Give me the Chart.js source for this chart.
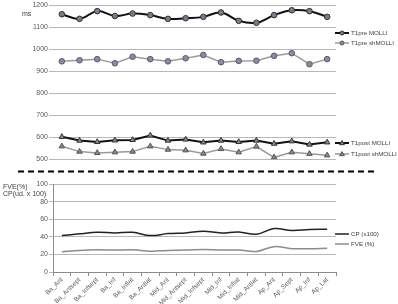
<!DOCTYPE html>
<html lang="en">
<head>
    <meta charset="UTF-8">
    <title>T1 MOLLI / shMOLLI</title>
    <script src="https://cdn.jsdelivr.net/npm/chart.js"></script>
    <style>
        body {
            margin: 0;
            background-color: #ffffff;
        }
        .figure {
            position: relative;
            width: 398px;
            height: 304px;
            overflow: hidden;
            font-family: "Liberation Sans", Arial, sans-serif;
            color: #404040;
        }
        .figure canvas {
            position: absolute;
            left: 0;
        }
        .side-label {
            position: absolute;
            font-size: 7px;
            line-height: 7px;
            white-space: nowrap;
        }
    </style>
</head>
<body>
    <div class="figure">
        <canvas id="topChart" width="398" height="168" style="top:0"></canvas>
        <canvas id="bottomChart" width="398" height="126" style="top:178px"></canvas>
        <!-- dashed separator between the two panels -->
        <svg style="position:absolute;left:0;top:0" width="398" height="304">
            <line x1="18" y1="171.5" x2="376" y2="171.5" stroke="#000" stroke-width="2" stroke-dasharray="6,4"/>
        </svg>
        <div class="side-label" style="left:22px;top:10px">ms</div>
        <div class="side-label" style="left:3px;top:183px">FVE(%)</div>
        <div class="side-label" style="left:3px;top:190px">CP(ud. x 100)</div>
    </div>

    <script>
        var categories = ['Ba_Ant', 'Ba_Antsept', 'Ba_Infsept', 'Ba_Inf', 'Ba_Inflat', 'Ba_Antlat',
            'Mid_Ant', 'Mid_Antsept', 'Mid_Infsept', 'Mid_Inf', 'Mid_Inflat', 'Mid_Antlat',
            'Ap_Ant', 'Ap_Sept', 'Ap_Inf', 'Ap_Lat'];

        var t1preMolli    = [1159, 1138, 1173, 1151, 1162, 1155, 1138, 1141, 1147, 1167, 1129, 1120, 1155, 1177, 1173, 1147];
        var t1preShMolli  = [945, 950, 955, 936, 966, 955, 945, 959, 974, 941, 947, 948, 970, 982, 932, 955];
        var t1postMolli   = [602, 585, 579, 586, 588, 608, 585, 590, 577, 585, 579, 585, 571, 582, 567, 577];
        var t1postShMolli = [559, 535, 529, 532, 535, 559, 544, 541, 526, 547, 532, 558, 509, 532, 525, 518];

        var cp  = [41.5, 43.5, 45.3, 44.6, 45.3, 41.5, 43.8, 44.6, 46.5, 44.6, 45.7, 43, 49.5, 47.3, 48.4, 48.8];
        var fve = [23, 24.6, 25.3, 25, 25.3, 23.8, 24.6, 25, 25.7, 25, 25, 23.5, 28.9, 26.6, 26.6, 27];

        var msTicks  = [500, 1200, 100];   // min, max, step
        var pctTicks = [0, 100, 20];

        // legend drawn on the right side, one entry per dataset at its own height
        var sideLegend = {
            id: 'sideLegend',
            afterDraw: function(chart) {
                var ctx = chart.ctx;
                var x0 = 335;
                chart.data.datasets.forEach(function(ds) {
                    var y = ds.legendY;
                    ctx.save();
                    ctx.strokeStyle = ds.borderColor;
                    ctx.lineWidth = ds.borderWidth;
                    ctx.beginPath();
                    ctx.moveTo(x0, y);
                    ctx.lineTo(x0 + 14, y);
                    ctx.stroke();
                    if (ds.pointRadius > 0) {
                        var cx = x0 + 7, r = ds.pointRadius - 0.8;
                        ctx.fillStyle = ds.pointBackgroundColor;
                        ctx.strokeStyle = ds.pointBorderColor;
                        ctx.lineWidth = 1;
                        ctx.beginPath();
                        if (ds.pointStyle === 'triangle') {
                            ctx.moveTo(cx, y - r);
                            ctx.lineTo(cx + r, y + r * 0.7);
                            ctx.lineTo(cx - r, y + r * 0.7);
                            ctx.closePath();
                        } else {
                            ctx.arc(cx, y, r, 0, Math.PI * 2);
                        }
                        ctx.fill();
                        ctx.stroke();
                    }
                    ctx.fillStyle = '#404040';
                    ctx.font = '6.2px "Liberation Sans", Arial, sans-serif';
                    ctx.textBaseline = 'middle';
                    ctx.fillText(ds.label, x0 + 16, y + 0.5);
                    ctx.restore();
                });
            }
        };

        var tickFont = { family: '"Liberation Sans", Arial, sans-serif', size: 7 };
        var plainTick = function(value) { return String(value); };

        var ctxTop = document.getElementById('topChart').getContext('2d');
        var topChart = new Chart(ctxTop, {
            type: 'line',
            data: {
                labels: categories,
                datasets: [{
                    label: 'T1pre MOLLI',
                    data: t1preMolli,
                    borderColor: '#111111',
                    borderWidth: 2,
                    tension: 0.4,
                    pointStyle: 'circle',
                    pointRadius: 2.8,
                    pointBackgroundColor: '#7c7c88',
                    pointBorderColor: '#333333',
                    pointBorderWidth: 1,
                    legendY: 33
                }, {
                    label: 'T1pre shMOLLI',
                    data: t1preShMolli,
                    borderColor: '#9a9a9a',
                    borderWidth: 1.5,
                    tension: 0,
                    pointStyle: 'circle',
                    pointRadius: 2.8,
                    pointBackgroundColor: '#8c8ca0',
                    pointBorderColor: '#5a5a66',
                    pointBorderWidth: 1,
                    legendY: 43
                }, {
                    label: 'T1post MOLLI',
                    data: t1postMolli,
                    borderColor: '#111111',
                    borderWidth: 2,
                    tension: 0,
                    pointStyle: 'triangle',
                    pointRadius: 3.2,
                    pointBackgroundColor: '#8a8a8a',
                    pointBorderColor: '#333333',
                    pointBorderWidth: 1,
                    legendY: 143
                }, {
                    label: 'T1post shMOLLI',
                    data: t1postShMolli,
                    borderColor: '#9a9a9a',
                    borderWidth: 1.5,
                    tension: 0,
                    pointStyle: 'triangle',
                    pointRadius: 3.2,
                    pointBackgroundColor: '#8a8a8a',
                    pointBorderColor: '#555555',
                    pointBorderWidth: 1,
                    legendY: 154
                }]
            },
            options: {
                responsive: false,
                animation: false,
                layout: { padding: { top: 5, right: 62, bottom: 8.7, left: 0 } },
                plugins: { legend: { display: false }, tooltip: { enabled: false } },
                scales: {
                    x: { display: false, offset: true },
                    y: {
                        min: msTicks[0],
                        max: msTicks[1],
                        ticks: { stepSize: msTicks[2], autoSkip: false, color: '#595959', font: tickFont, padding: 1, callback: plainTick },
                        grid: { color: '#b8b8b8', tickLength: 4 },
                        border: { display: false },
                        afterFit: function(scale) { scale.width = 53; }
                    }
                }
            },
            plugins: [sideLegend]
        });

        var ctxBottom = document.getElementById('bottomChart').getContext('2d');
        var bottomChart = new Chart(ctxBottom, {
            type: 'line',
            data: {
                labels: categories,
                datasets: [{
                    label: 'CP (x100)',
                    data: cp,
                    borderColor: '#222222',
                    borderWidth: 1.5,
                    tension: 0.4,
                    pointRadius: 0,
                    legendY: 56
                }, {
                    label: 'FVE (%)',
                    data: fve,
                    borderColor: '#8c8c8c',
                    borderWidth: 1.5,
                    tension: 0.4,
                    pointRadius: 0,
                    legendY: 66
                }]
            },
            options: {
                responsive: false,
                animation: false,
                layout: { padding: { top: 6.3, right: 62, bottom: 0, left: 0 } },
                plugins: { legend: { display: false }, tooltip: { enabled: false } },
                scales: {
                    x: {
                        offset: true,
                        grid: { display: true, drawOnChartArea: false, offset: true, tickLength: 4, color: '#8c8c8c' },
                        border: { display: true, color: '#8c8c8c' },
                        ticks: { autoSkip: false, minRotation: 45, maxRotation: 45, color: '#595959', font: { family: tickFont.family, size: 6.5 }, padding: 0 },
                        afterFit: function(scale) { scale.height = 32; }
                    },
                    y: {
                        min: pctTicks[0],
                        max: pctTicks[1],
                        ticks: { stepSize: pctTicks[2], autoSkip: false, color: '#595959', font: tickFont, padding: 1, callback: plainTick },
                        grid: { color: '#b8b8b8', tickLength: 4 },
                        border: { display: true, color: '#8c8c8c' },
                        afterFit: function(scale) { scale.width = 53; }
                    }
                }
            },
            plugins: [sideLegend]
        });
    </script>
</body>
</html>
